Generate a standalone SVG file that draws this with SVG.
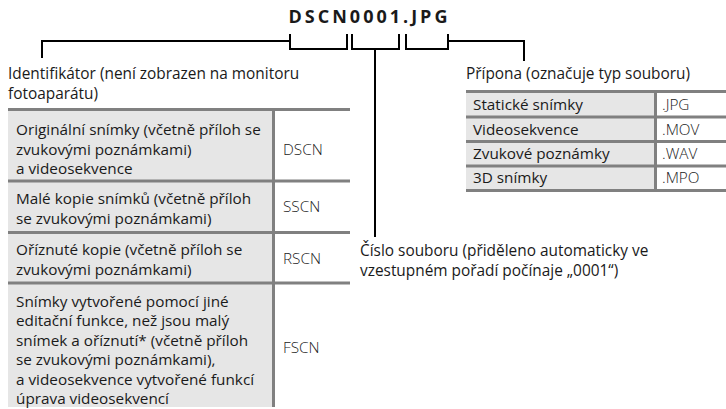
<svg xmlns="http://www.w3.org/2000/svg" width="726" height="409" viewBox="0 0 726 409">
<style>
text{font-family:"Open Sans","Liberation Sans",sans-serif;font-size:15.3px;fill:#1a1a1a}
.lbl{font-size:15.4px}
.code{fill:#222;font-weight:300}
.title{font-weight:bold;font-size:18px;letter-spacing:3px;fill:#1a1a1a}
.lead{fill:none;stroke:#000;stroke-width:2}
.cell{fill:#e6e6e6}
.bd{stroke:#808080;stroke-width:3;fill:none}
</style>
<rect width="726" height="409" fill="#fff"/>
<g id="title"><text class="title" x="369.5" y="23" text-anchor="middle">DSCN0001.JPG</text></g>
<g id="connectors">
<path class="lead" d="M290 34V49H347V34"/>
<path class="lead" d="M352 34V49H399V34"/>
<path class="lead" d="M406 34V49H448V34"/>
<path class="lead" d="M290 41H42V58"/>
<path class="lead" d="M375 49V237"/>
<path class="lead" d="M448 41H524V61"/>
</g>
<g id="identifier">
<text class="lbl" x="8" y="79">Identifikátor (není zobrazen na monitoru</text>
<text class="lbl" x="8" y="99">fotoaparátu)</text>
</g>
<g id="left-table">
<rect class="cell" x="8" y="111" width="265" height="296"/>
<path class="bd" d="M8 109.5H350M8 181H350M8 232.5H350M8 283H350M273.5 111V407"/>
<text x="16" y="135">Originální snímky (včetně příloh se</text>
<text x="16" y="154.5">zvukovými poznámkami)</text>
<text x="16" y="174">a videosekvence</text>
<text class="code" x="283" y="155">DSCN</text>
<text x="16" y="204">Malé kopie snímků (včetně příloh</text>
<text x="16" y="223.5">se zvukovými poznámkami)</text>
<text class="code" x="283" y="212">SSCN</text>
<text x="16" y="255">Oříznuté kopie (včetně příloh se</text>
<text x="16" y="274.5">zvukovými poznámkami)</text>
<text class="code" x="283" y="264">RSCN</text>
<text x="16" y="306.5">Snímky vytvořené pomocí jiné</text>
<text x="16" y="326">editační funkce, než jsou malý</text>
<text x="16" y="345.5">snímek a oříznutí* (včetně příloh</text>
<text x="16" y="365">se zvukovými poznámkami),</text>
<text x="16" y="384.5">a videosekvence vytvořené funkcí</text>
<text x="16" y="404">úprava videosekvencí</text>
<text class="code" x="283" y="353">FSCN</text>
</g>
<g id="extension">
<text class="lbl" x="466" y="79">Přípona (označuje typ souboru)</text>
</g>
<g id="right-table">
<rect class="cell" x="466" y="93" width="189" height="96"/>
<path class="bd" d="M466 91.5H726M466 117H726M466 141.5H726M466 166H726M466 190.5H726M655.5 93V189"/>
<text x="473" y="110">Statické snímky</text>
<text class="code" x="662" y="110">.JPG</text>
<text x="473" y="134.5">Videosekvence</text>
<text class="code" x="662" y="134.5">.MOV</text>
<text x="473" y="159">Zvukové poznámky</text>
<text class="code" x="662" y="159">.WAV</text>
<text x="473" y="183">3D snímky</text>
<text class="code" x="662" y="183">.MPO</text>
</g>
<g id="number">
<text class="lbl" x="360" y="256">Číslo souboru (přiděleno automaticky ve</text>
<text class="lbl" x="360" y="275.5">vzestupném pořadí počínaje „0001“)</text>
</g>
</svg>
